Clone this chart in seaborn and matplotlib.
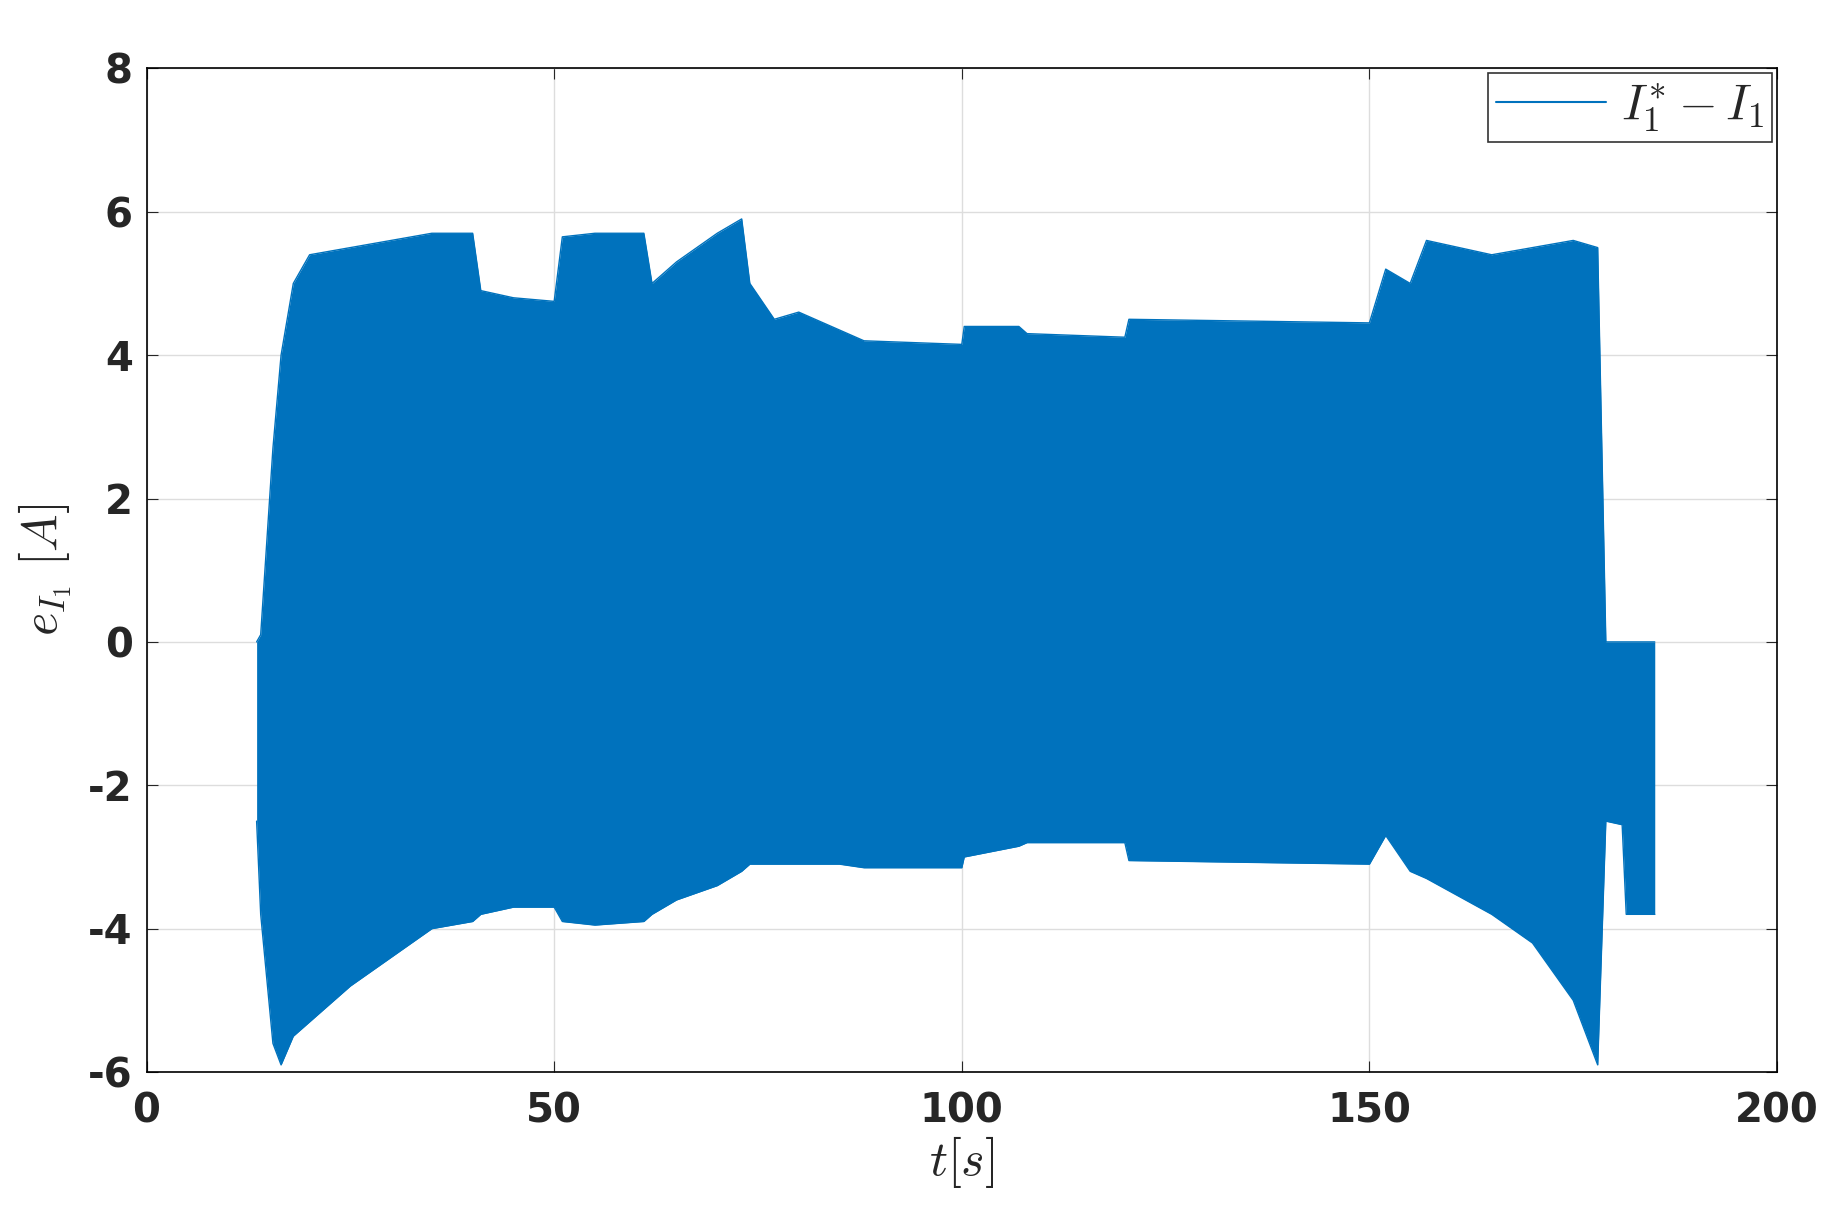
import matplotlib
matplotlib.use("Agg")
import matplotlib.pyplot as plt
import seaborn as sns

# envelope of the current error signal
t = [13.5, 14, 15.5, 16.5, 18, 20, 25, 30, 35, 40, 41, 45, 50, 51, 55, 61, 62, 65, 70, 73,
     74, 77, 80, 85, 88, 100, 100.3, 107, 108, 120, 120.5, 150, 152, 155, 157, 165, 170,
     175, 178, 179, 181, 181.5, 185]
upper = [0, 0.1, 2.7, 4.0, 5.0, 5.4, 5.5, 5.6, 5.7, 5.7, 4.9, 4.8, 4.75, 5.65, 5.7, 5.7, 5.0,
         5.3, 5.7, 5.9, 5.0, 4.5, 4.6, 4.35, 4.2, 4.15, 4.4, 4.4, 4.3, 4.25, 4.5, 4.45, 5.2,
         5.0, 5.6, 5.4, 5.5, 5.6, 5.5, 0, 0, 0, 0]
lower = [-2.5, -3.8, -5.6, -5.9, -5.5, -5.3, -4.8, -4.4, -4.0, -3.9, -3.8, -3.7, -3.7, -3.9,
         -3.95, -3.9, -3.8, -3.6, -3.4, -3.2, -3.1, -3.1, -3.1, -3.1, -3.15, -3.15, -3.0,
         -2.85, -2.8, -2.8, -3.05, -3.1, -2.7, -3.2, -3.3, -3.8, -4.2, -5.0, -5.9, -2.5,
         -2.55, -3.8, -3.8]

sns.set_style("whitegrid")
plt.rcParams['mathtext.fontset'] = 'cm'
plt.rcParams['axes.unicode_minus'] = False
blue = "#0072BD"

fig = plt.figure(figsize=(18.32, 12.21), dpi=100)
ax = fig.add_axes([0.080, 0.122, 0.890, 0.822])
ax.fill_between(t, lower, upper, color=blue, linewidth=0)
sns.lineplot(x=t, y=upper, ax=ax, color=blue, linewidth=1, label=r"$I_1^{*}-I_1$")
sns.lineplot(x=t, y=lower, ax=ax, color=blue, linewidth=1)

ax.set_xlim(0, 200)
ax.set_ylim(-6, 8)
ax.set_xticks([0, 50, 100, 150, 200])
ax.set_yticks(range(-6, 9, 2))
ax.grid(True, color="#dddddd", linewidth=1)
for s in ax.spines.values():
    s.set_color("black")
    s.set_linewidth(1.2)
ax.tick_params(labelsize=29, direction="in", length=8, top=True, right=True,
               colors="#262626", bottom=True, left=True)
ax.tick_params(axis="x", pad=14)
ax.tick_params(axis="y", pad=10)
for lab in ax.get_xticklabels() + ax.get_yticklabels():
    lab.set_fontweight("heavy")
    lab.set_family("DejaVu Sans")
ax.set_xlabel(r"$t[s]$", fontsize=36, color="#262626", labelpad=2)
ax.set_ylabel(r"$e_{I_1}\ [A]$", fontsize=36, color="#262626", labelpad=10)
leg = ax.legend(loc="upper right", fontsize=36, frameon=True, fancybox=False,
                handlelength=2.2, handletextpad=0.3, borderpad=0.15,
                borderaxespad=0.1)
leg.get_frame().set_edgecolor("black")
leg.get_frame().set_linewidth(1.2)
for line in leg.get_lines():
    line.set_linewidth(1.5)

fig.savefig("out.png", dpi=100, facecolor="white")
